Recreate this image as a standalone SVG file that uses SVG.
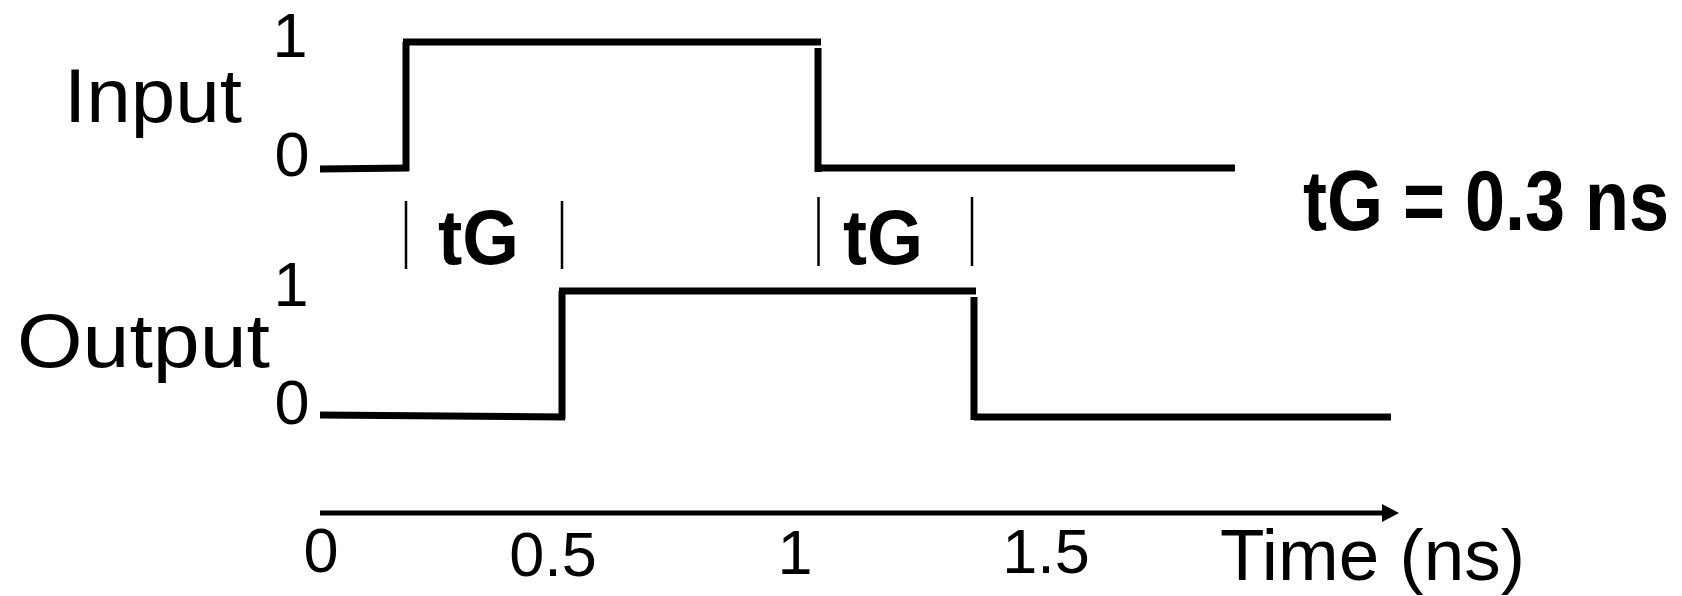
<svg xmlns="http://www.w3.org/2000/svg" width="1682" height="596" viewBox="0 0 1682 596">
  <defs>
    <style>
      .lbl { font-family: "Liberation Sans", Arial, sans-serif; fill: #000; }
      .big { font-size: 76px; }
      .num { font-size: 63px; text-anchor: middle; }
      .bold { font-family: "Liberation Sans", Arial, sans-serif; font-weight: bold; fill: #000; }
      .wave { stroke: #000; stroke-width: 7; fill: none; stroke-linecap: butt; }
      .bar { stroke: #000; stroke-width: 2.5; }
      .axis { stroke: #000; stroke-width: 5; fill: none; }
    </style>
    <marker id="arrow" markerWidth="18" markerHeight="18" refX="0" refY="9" orient="auto" markerUnits="userSpaceOnUse" viewBox="0 0 18 18">
      <path d="M0,0 L17,9 L0,18 Z" fill="#000"/>
    </marker>
  </defs>
  <rect width="1682" height="596" fill="#fff"/>

  <!-- signal names and logic levels -->
  <g id="input-label">
    <text class="lbl big" x="64" y="122" textLength="178" lengthAdjust="spacingAndGlyphs">Input</text>
    <text class="lbl num" x="290" y="57">1</text>
    <text class="lbl num" x="292" y="176">0</text>
  </g>
  <g id="output-label">
    <text class="lbl big" x="17" y="367" textLength="253" lengthAdjust="spacingAndGlyphs">Output</text>
    <text class="lbl num" x="291" y="306">1</text>
    <text class="lbl num" x="292" y="424">0</text>
  </g>

  <!-- gate delay markers -->
  <g id="delay-rise">
    <line class="bar" x1="406" y1="201" x2="406" y2="269"/>
    <text class="bold" x="438" y="264" font-size="78" textLength="81" lengthAdjust="spacingAndGlyphs">tG</text>
    <line class="bar" x1="562" y1="201" x2="562" y2="269"/>
  </g>
  <g id="delay-fall">
    <line class="bar" x1="818.5" y1="197" x2="818.5" y2="266"/>
    <text class="bold" x="843" y="264" font-size="78" textLength="80" lengthAdjust="spacingAndGlyphs">tG</text>
    <line class="bar" x1="972" y1="197" x2="972" y2="266"/>
  </g>
  <g id="delay-value">
    <text class="bold" transform="translate(1303,230) scale(1,1.19)" x="0" y="0" font-size="72">tG = 0.3 ns</text>
  </g>

  <!-- waveforms -->
  <g id="connectors">
    <g id="input-wave">
      <line class="wave" x1="320" y1="169" x2="409" y2="168"/>
      <line class="wave" x1="406" y1="171" x2="406" y2="42"/>
      <line class="wave" x1="403" y1="42" x2="821" y2="42"/>
      <line class="wave" x1="818" y1="48" x2="818" y2="172"/>
      <line class="wave" x1="818" y1="168" x2="1235" y2="168"/>
    </g>
    <g id="output-wave">
      <line class="wave" x1="320" y1="415" x2="565" y2="417"/>
      <line class="wave" x1="562" y1="419" x2="562" y2="291"/>
      <line class="wave" x1="559" y1="291" x2="976" y2="291"/>
      <line class="wave" x1="974" y1="297" x2="974" y2="420"/>
      <line class="wave" x1="974" y1="417" x2="1391" y2="417"/>
    </g>
    <g id="time-axis">
      <line class="axis" x1="320" y1="513" x2="1382" y2="513" marker-end="url(#arrow)"/>
    </g>
  </g>

  <!-- time scale -->
  <g id="time-labels">
    <text class="lbl num" x="321" y="572">0</text>
    <text class="lbl num" x="553" y="576">0.5</text>
    <text class="lbl num" x="795" y="574">1</text>
    <text class="lbl num" x="1046" y="573">1.5</text>
    <text class="lbl" x="1220" y="580" font-size="72" textLength="305" lengthAdjust="spacingAndGlyphs">Time (ns)</text>
  </g>
</svg>
